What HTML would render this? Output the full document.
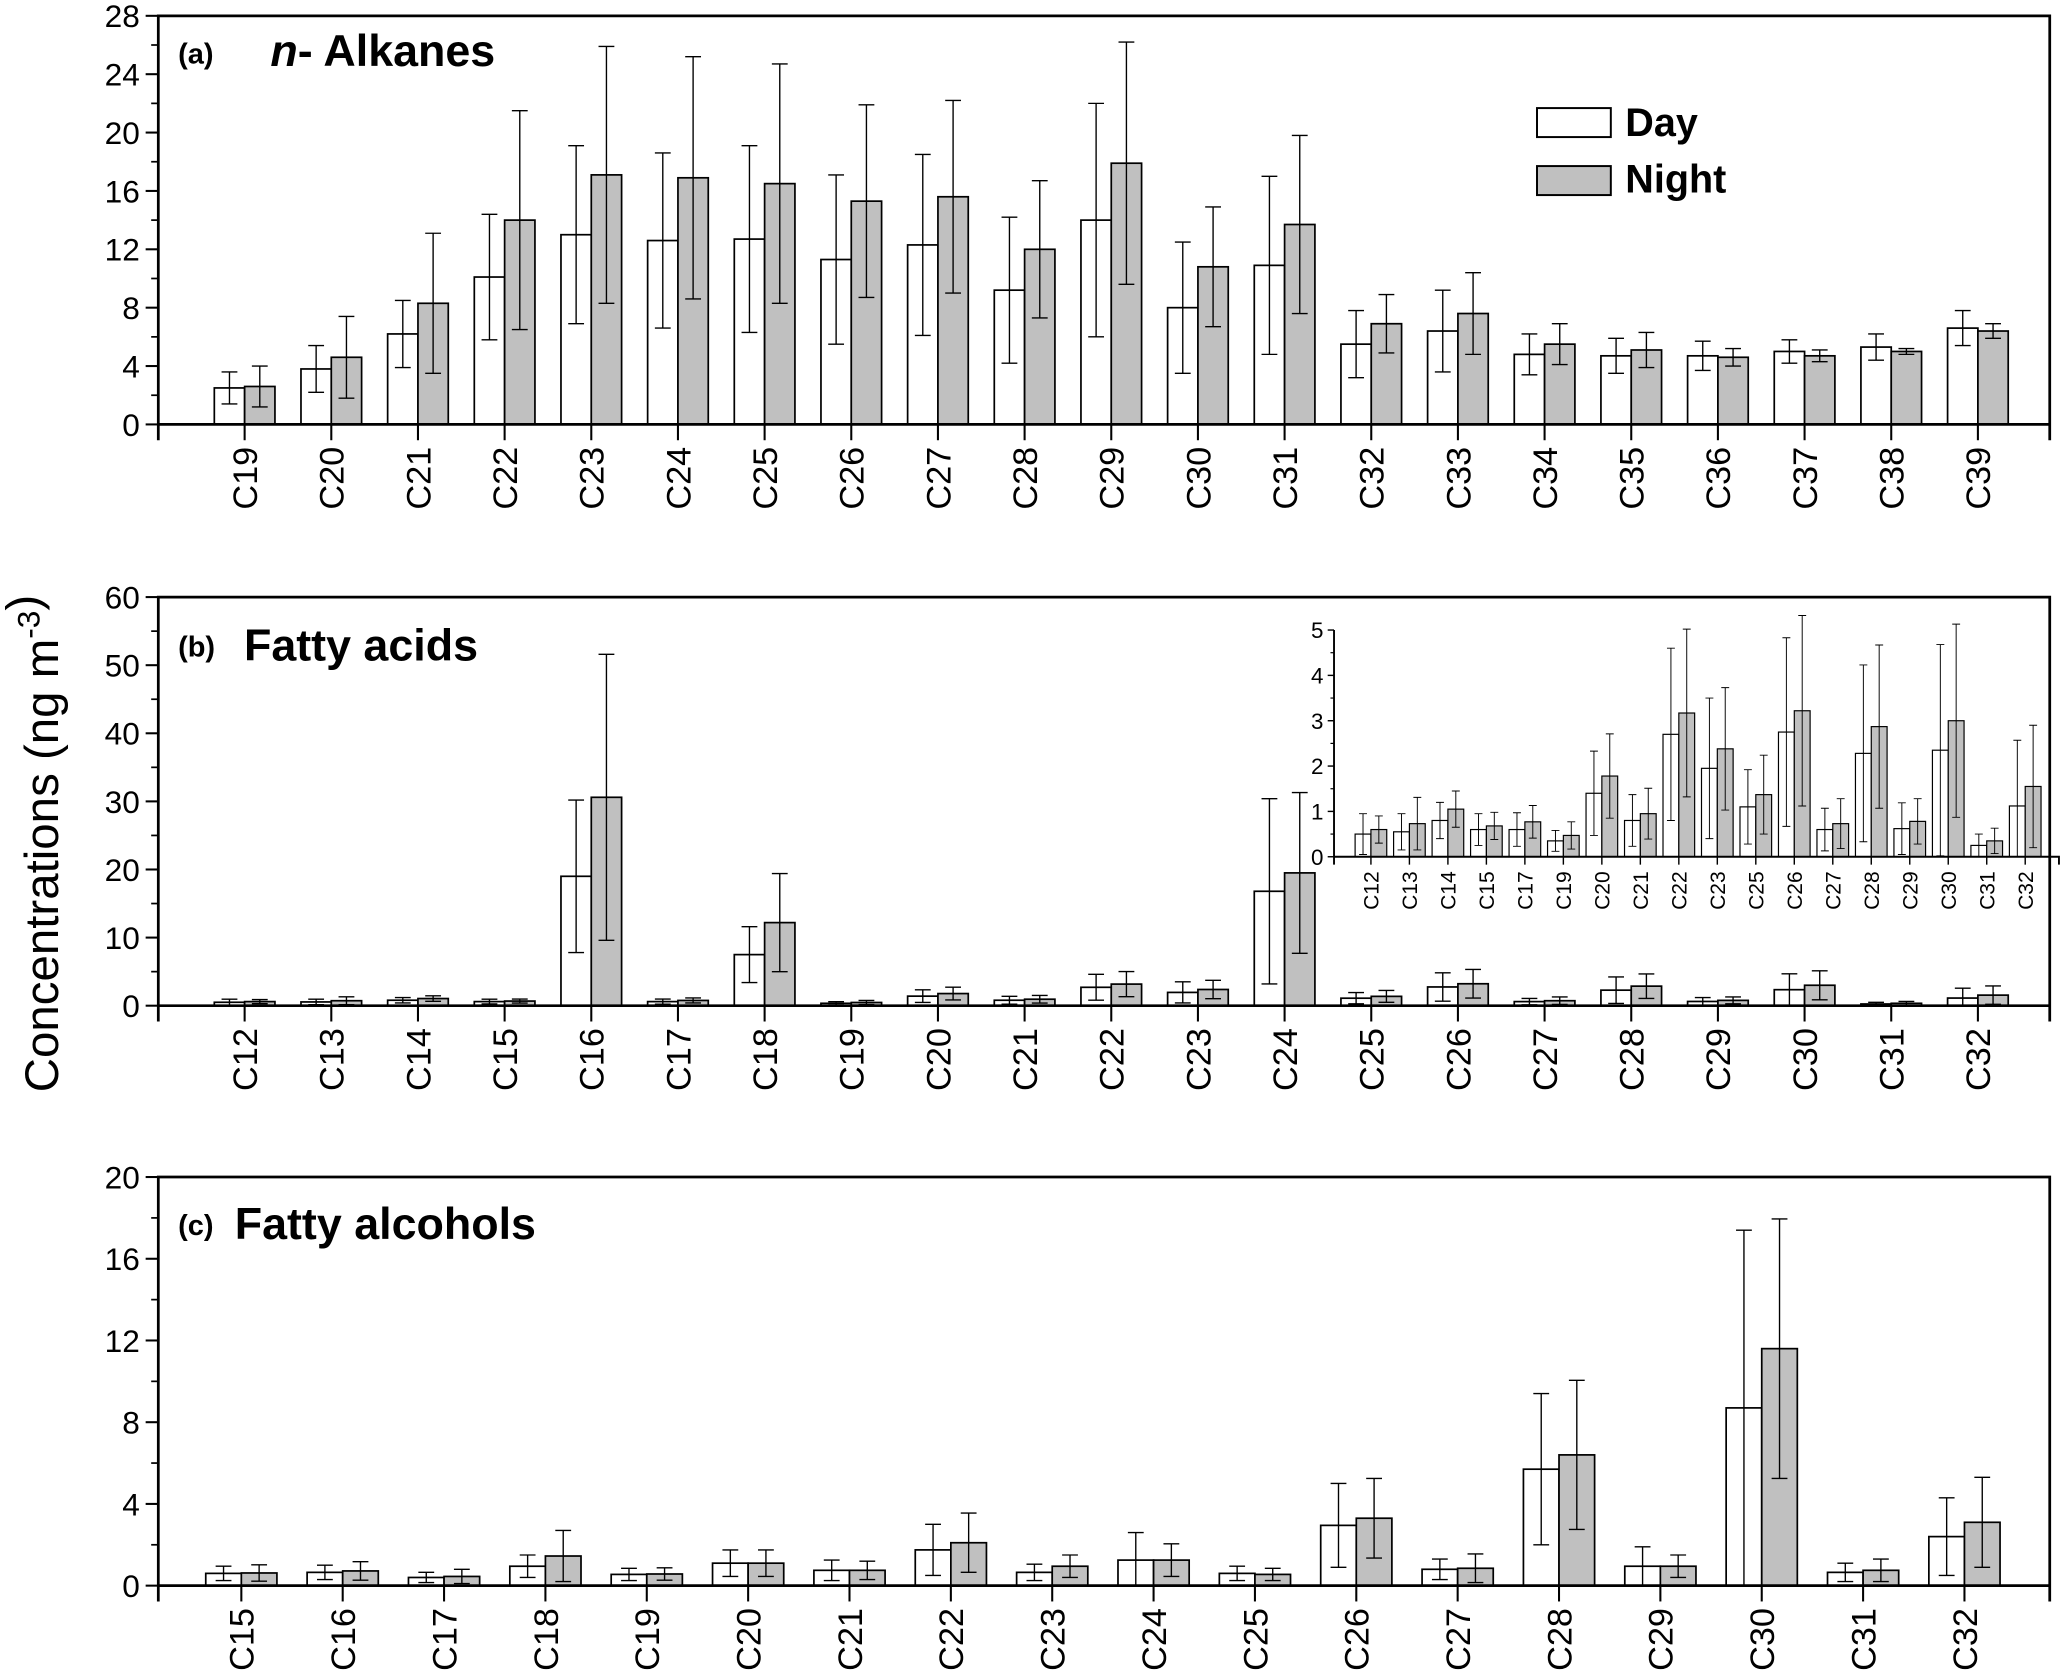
<!DOCTYPE html>
<html><head><meta charset="utf-8"><style>
html,body{margin:0;padding:0;background:#fff}
svg{display:block}
text{font-family:"Liberation Sans",Arial,sans-serif;fill:#000}
</style></head><body>
<svg id="chart" width="2067" height="1670" viewBox="0 0 1568 1267" xmlns="http://www.w3.org/2000/svg">
<text transform="translate(44,640) rotate(-90)" text-anchor="middle" font-size="36">Concentrations (ng m<tspan font-size="24" dy="-14">-3</tspan>)</text>
<g>
<rect x="1166" y="82" width="56" height="22" fill="#fff" stroke="#000" stroke-width="1.5"/>
<text x="1233" y="103" font-size="30" font-weight="bold">Day</text>
<rect x="1166" y="126" width="56" height="22" fill="#c0c0c0" stroke="#000" stroke-width="1.5"/>
<text x="1233" y="146" font-size="30" font-weight="bold">Night</text>
</g>
</svg>
<script>
// Panel (a) n-Alkanes
const aCats = ["C19","C20","C21","C22","C23","C24","C25","C26","C27","C28","C29","C30","C31","C32","C33","C34","C35","C36","C37","C38","C39"];
const aDay = [2.5,3.8,6.2,10.1,13.0,12.6,12.7,11.3,12.3,9.2,14.0,8.0,10.9,5.5,6.4,4.8,4.7,4.7,5.0,5.3,6.6];
const aDaySd = [1.1,1.6,2.3,4.3,6.1,6.0,6.4,5.8,6.2,5.0,8.0,4.5,6.1,2.3,2.8,1.4,1.2,1.0,0.8,0.9,1.2];
const aNight = [2.6,4.6,8.3,14.0,17.1,16.9,16.5,15.3,15.6,12.0,17.9,10.8,13.7,6.9,7.6,5.5,5.1,4.6,4.7,5.0,6.4];
const aNightSd = [1.4,2.8,4.8,7.5,8.8,8.3,8.2,6.6,6.6,4.7,8.3,4.1,6.1,2.0,2.8,1.4,1.2,0.6,0.4,0.2,0.5];
const aTicks = [0,4,8,12,16,20,24,28];
// Panel (b) Fatty acids
const bCats = ["C12","C13","C14","C15","C16","C17","C18","C19","C20","C21","C22","C23","C24","C25","C26","C27","C28","C29","C30","C31","C32"];
const bDay = [0.5,0.55,0.8,0.6,19.0,0.6,7.5,0.35,1.4,0.8,2.7,1.95,16.8,1.1,2.75,0.6,2.28,0.62,2.35,0.25,1.12];
const bDaySd = [0.45,0.4,0.4,0.35,11.2,0.37,4.1,0.23,0.93,0.57,1.9,1.55,13.6,0.82,2.08,0.47,1.95,0.57,2.33,0.25,1.45];
const bNight = [0.6,0.73,1.05,0.68,30.6,0.77,12.2,0.47,1.78,0.95,3.17,2.38,19.5,1.37,3.22,0.73,2.87,0.78,3.0,0.35,1.55];
const bNightSd = [0.3,0.58,0.4,0.3,21.0,0.36,7.2,0.3,0.93,0.56,1.85,1.35,11.8,0.87,2.1,0.55,1.8,0.5,2.13,0.28,1.35];
const bTicks = [0,10,20,30,40,50,60];
// Inset of (b)
const insetCats = ["C12","C13","C14","C15","C17","C19","C20","C21","C22","C23","C25","C26","C27","C28","C29","C30","C31","C32"];
const insetTicks = [0,1,2,3,4,5];
// Panel (c) Fatty alcohols
const cCats = ["C15","C16","C17","C18","C19","C20","C21","C22","C23","C24","C25","C26","C27","C28","C29","C30","C31","C32"];
const cDay = [0.6,0.65,0.4,0.95,0.55,1.1,0.75,1.75,0.65,1.25,0.6,2.95,0.8,5.7,0.95,8.7,0.65,2.4];
const cDaySd = [0.35,0.35,0.25,0.55,0.3,0.65,0.5,1.25,0.4,1.35,0.35,2.05,0.5,3.7,0.95,8.7,0.45,1.9];
const cNight = [0.62,0.72,0.45,1.45,0.57,1.1,0.75,2.1,0.95,1.25,0.55,3.3,0.85,6.4,0.95,11.6,0.75,3.1];
const cNightSd = [0.4,0.45,0.35,1.25,0.3,0.65,0.45,1.45,0.55,0.8,0.3,1.95,0.7,3.65,0.55,6.35,0.55,2.2];
const cTicks = [0,4,8,12,16,20];

const NS = "http://www.w3.org/2000/svg";
const svg = document.getElementById("chart");
function mk(tag, attrs, parent) {
  const e = document.createElementNS(NS, tag);
  for (const k in attrs) e.setAttribute(k, attrs[k]);
  (parent || svg).appendChild(e);
  return e;
}

function drawPanel(o) {
  const g = mk("g", {});
  
  
  const L = o.left, R = o.right, T = o.top, B = o.bottom;
  const yMax = o.ticks[o.ticks.length - 1];
  const ys = v => B - (v / yMax) * (B - T);
  const xs = i => o.x0 + i * o.step;
  const sw = o.sw;
  // bars
  for (let i = 0; i < o.cats.length; i++) {
    const cx = xs(i);
    const series = [[o.day[i], o.daySd[i], cx - o.bw, "#fff", "day"], [o.night[i], o.nightSd[i], cx, "#c0c0c0", "night"]];
    for (const s of series) {
      const r = mk("rect", {x: s[2], y: ys(s[0]), width: o.bw, height: B - ys(s[0]), fill: s[3], stroke: "#000", "stroke-width": sw}, g);
      
      
      const ex = s[2] + o.bw / 2;
      const lo = Math.max(0, s[0] - s[1]), hi = s[0] + s[1];
      const eb = mk("path", {d: `M${ex},${ys(lo)}V${ys(hi)}M${ex - o.cap},${ys(hi)}h${2 * o.cap}M${ex - o.cap},${ys(lo)}h${2 * o.cap}`, stroke: "#000", "stroke-width": sw * 0.8, fill: "none"}, g);
      
      
    }
    const tk = mk("line", {x1: cx, y1: B, x2: cx, y2: B + o.tickLen, stroke: "#000", "stroke-width": sw * 1.2}, g);
    
    
    const lb = mk("text", {transform: `translate(${cx + o.fs * 0.36},${B + o.tickLen + 5}) rotate(-90)`, "text-anchor": "end", "font-size": o.fs}, g);
    lb.textContent = o.cats[i];
    
    
  }
  // axes
  const ax = mk("path", {d: o.box ? `M${L},${B + o.tickLen}V${T}H${R}V${B + o.tickLen}M${L},${B}H${R}` : `M${L},${B + o.tickLen}V${T}M${L},${B}H${R}V${B + o.tickLen}`, stroke: "#000", "stroke-width": sw * 1.6, fill: "none"}, g);
  
  
  const step = o.ticks[1] - o.ticks[0];
  for (let k = 0; k < o.ticks.length; k++) {
    const v = o.ticks[k];
    const t = mk("line", {x1: L - o.tickLen * 0.8, y1: ys(v), x2: L, y2: ys(v), stroke: "#000", "stroke-width": sw * 1.2}, g);
    
    
    if (o.minor && k < o.ticks.length - 1) {
      const m = mk("line", {x1: L - o.tickLen * 0.45, y1: ys(v + step / 2), x2: L, y2: ys(v + step / 2), stroke: "#000", "stroke-width": sw}, g);
      
      
    }
    const tl = mk("text", {x: L - o.tickLen - 2, y: ys(v) + o.yfs * 0.36, "text-anchor": "end", "font-size": o.yfs}, g);
    tl.textContent = v;
    
    
  }
}

function pick(cats, src, arr) { return cats.map(c => arr[src.indexOf(c)]); }

drawPanel({name: "panel-a-alkanes", cats: aCats, day: aDay, daySd: aDaySd, night: aNight, nightSd: aNightSd, ticks: aTicks,
  left: 120, right: 1555, top: 12, bottom: 322, x0: 185.5, step: 65.75, bw: 23, cap: 6, sw: 1.3, tickLen: 12, fs: 26, yfs: 24, minor: true, box: true});
drawPanel({name: "panel-b-fatty-acids", cats: bCats, day: bDay, daySd: bDaySd, night: bNight, nightSd: bNightSd, ticks: bTicks,
  left: 120, right: 1555, top: 453, bottom: 763, x0: 185.5, step: 65.75, bw: 23, cap: 6, sw: 1.3, tickLen: 12, fs: 26, yfs: 24, minor: true, box: true});
drawPanel({name: "panel-b-inset", cats: insetCats,
  day: pick(insetCats, bCats, bDay), daySd: pick(insetCats, bCats, bDaySd),
  night: pick(insetCats, bCats, bNight), nightSd: pick(insetCats, bCats, bNightSd), ticks: insetTicks,
  left: 1012, right: 1562, top: 478, bottom: 650, x0: 1040, step: 29.2, bw: 12, cap: 3, sw: 0.9, tickLen: 6, fs: 16, yfs: 17, minor: true, box: false});
drawPanel({name: "panel-c-fatty-alcohols", cats: cCats, day: cDay, daySd: cDaySd, night: cNight, nightSd: cNightSd, ticks: cTicks,
  left: 120, right: 1555, top: 893, bottom: 1203, x0: 183, step: 76.9, bw: 27, cap: 6, sw: 1.3, tickLen: 12, fs: 26, yfs: 24, minor: true, box: true});

// Panel titles
const titles = [["(a)", 135, 48, "panel-a-title"], ["(b)", 135, 498, "panel-b-title"], ["(c)", 135, 937, "panel-c-title"]];
for (const t of titles) {
  const e = mk("text", {x: t[1], y: t[2], "font-size": 22, "font-weight": "bold"});
  e.textContent = t[0];
  
  
}
const ta = mk("text", {x: 205, y: 50, "font-size": 34, "font-weight": "bold"});
ta.innerHTML = '<tspan font-style="italic">n</tspan>- Alkanes';


const tb = mk("text", {x: 185, y: 501, "font-size": 34, "font-weight": "bold"});
tb.textContent = "Fatty acids";


const tc = mk("text", {x: 178, y: 940, "font-size": 34, "font-weight": "bold"});
tc.textContent = "Fatty alcohols";


</script>
</body></html>
